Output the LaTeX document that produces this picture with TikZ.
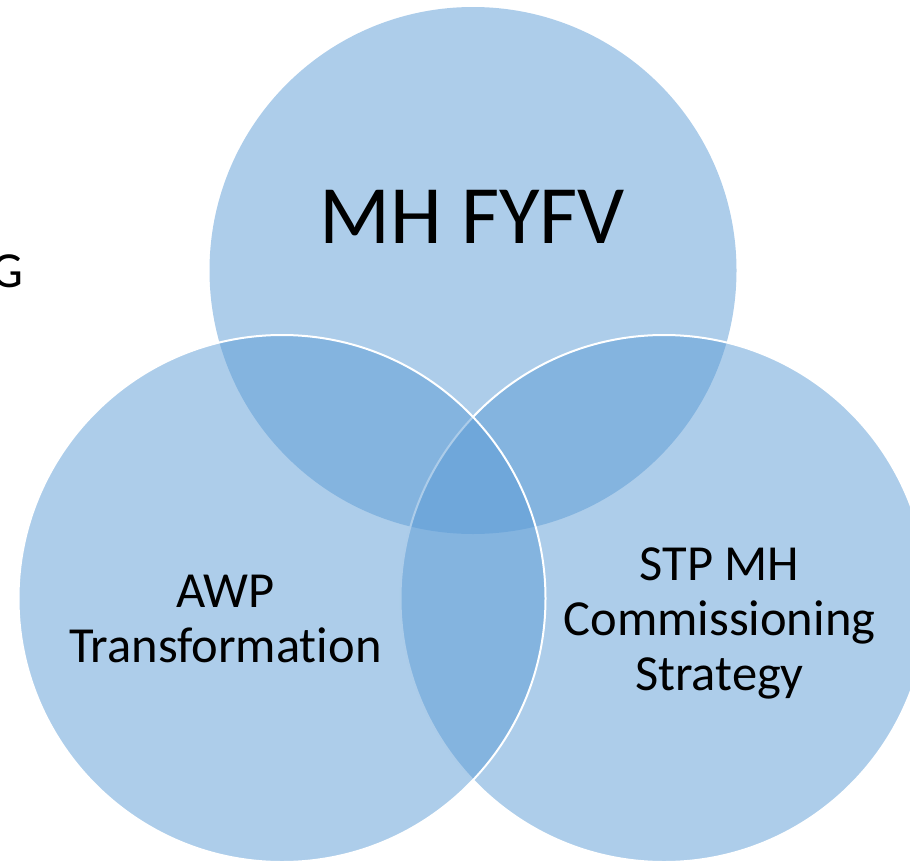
\documentclass[tikz,border=0pt]{standalone}
\usepackage{fontspec}
\setmainfont{Carlito}[Ligatures=NoCommon]
\definecolor{vennblue}{HTML}{5B9BD5}
\begin{document}
\begin{tikzpicture}[x=1pt,y=-1pt,
  venn/.style={circle, minimum size=527pt, inner sep=0pt, fill=vennblue, fill opacity=0.5},
  vennline/.style={draw=white, line width=2pt},
  lbl/.style={text=black, align=center, inner sep=0pt, font=\fontsize{50.5}{55}\selectfont},
  biglbl/.style={text=black, inner sep=0pt, font=\fontsize{83}{92}\selectfont}]
\useasboundingbox (0,0) rectangle (910,862);
\clip (0,0) rectangle (910,862);
\node[venn] (top) at (473,270.5) {};
\node[venn, vennline] (right) at (664,598.5) {};
\node[venn, vennline] (left) at (282,598.5) {};
\node[biglbl, anchor=base] (toplbl) at (472.5,243) {MH FYFV};
\node[lbl, anchor=north] (leftlbl) at (225.5,574.5) {AWP\\Transformation};
\node[lbl, anchor=north] (rightlbl) at (719.5,547.5) {STP MH\\Commissioning\\Strategy};
\node[lbl, anchor=base east] (g) at (24,287) {G};
\end{tikzpicture}
\end{document}
